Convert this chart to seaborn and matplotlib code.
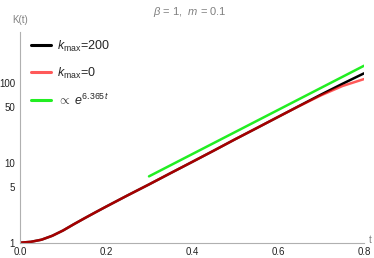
import numpy as np
import pandas as pd
import matplotlib
matplotlib.use("Agg")
import matplotlib.pyplot as plt
import matplotlib.ticker as mticker
import seaborn as sns

# ---- data ----
t_vals = [0.0, 0.025, 0.05, 0.075, 0.1, 0.125, 0.15, 0.175, 0.2, 0.25, 0.3, 0.35,
          0.4, 0.45, 0.5, 0.55, 0.6, 0.65, 0.7, 0.75, 0.8]
k_200 = [1.0, 1.025, 1.09, 1.22, 1.42, 1.70, 2.02, 2.39, 2.82, 3.90, 5.35, 7.4,
         10.2, 14.1, 19.6, 27.0, 37.3, 51.5, 71.0, 97.0, 131.0]
k_0 = [1.0, 1.025, 1.09, 1.22, 1.42, 1.70, 2.02, 2.39, 2.82, 3.90, 5.35, 7.4,
       10.2, 14.1, 19.6, 27.0, 37.3, 51.3, 69.5, 91.0, 111.0]
t_fit = [0.3, 0.8]
k_fit = [6.75, 163.0]

y_major = [1, 5, 10, 50, 100]
x_major = [0.0, 0.2, 0.4, 0.6, 0.8]

sns.set_theme(style="white")
plt.rcParams['font.family'] = ['Liberation Sans', 'DejaVu Sans']
plt.rcParams['mathtext.fontset'] = 'custom'
plt.rcParams['mathtext.rm'] = 'Liberation Sans'
plt.rcParams['mathtext.it'] = 'Liberation Sans:italic'

fig = plt.figure(figsize=(3.74, 2.58), dpi=100)
ax = fig.add_axes([20/374, 1 - 242.7/258, 344/374, (242.7 - 32)/258])

df_black = pd.DataFrame({"t": t_vals, "K": k_200})
df_red = pd.DataFrame({"t": t_vals, "K": k_0})
df_green = pd.DataFrame({"t": t_fit, "K": k_fit})

sns.lineplot(data=df_black, x="t", y="K", ax=ax, color="black", lw=1.8,
             label=r"$k_{\mathrm{max}}$=200")
sns.lineplot(data=df_red, x="t", y="K", ax=ax, color=(1, 0, 0), alpha=0.65, lw=1.8,
             label=r"$k_{\mathrm{max}}$=0")
sns.lineplot(data=df_green, x="t", y="K", ax=ax, color="#22ee22", lw=1.8,
             label=r"$\propto\ e^{6.365\,t}$")

ax.set_yscale("log")
ax.set_xlim(0, 0.8)
ax.set_ylim(1, 10 ** 2.634)
ax.set_xlabel("")
ax.set_ylabel("")

ax.yaxis.set_major_locator(mticker.FixedLocator(y_major))
ax.yaxis.set_major_formatter(mticker.FixedFormatter([str(v) for v in y_major]))
ax.yaxis.set_minor_locator(mticker.FixedLocator(
    [2, 3, 4, 6, 7, 8, 9, 20, 30, 40, 60, 70, 80, 90, 200, 300, 400]))
ax.yaxis.set_minor_formatter(mticker.NullFormatter())
ax.xaxis.set_major_locator(mticker.FixedLocator(x_major))
ax.xaxis.set_major_formatter(mticker.FixedFormatter([f"{v:.1f}" for v in x_major]))
ax.xaxis.set_minor_locator(mticker.MultipleLocator(0.05))

for s in ["top", "right"]:
    ax.spines[s].set_visible(False)
for s in ["left", "bottom"]:
    ax.spines[s].set_color("#b0b0b0")
    ax.spines[s].set_linewidth(0.8)

ax.tick_params(which="both", direction="in", colors="#b0b0b0", labelcolor="#222222",
               labelsize=7, width=0.6)
ax.tick_params(axis="x", pad=3.2)
ax.tick_params(axis="y", pad=3.5)
ax.tick_params(which="major", length=4)
ax.tick_params(which="minor", length=2)
ax.set_facecolor("white")

leg = ax.legend(loc="upper left", bbox_to_anchor=(0.01, 1.005), frameon=False,
                fontsize=9, handlelength=1.6, handletextpad=0.5,
                labelspacing=0.95, borderaxespad=0.2)
for line in leg.get_lines():
    line.set_linewidth(2.2)

fig.text(20/374, 1 - 20/258, "K(t)", color="#808080", fontsize=7, ha="center", va="center")
fig.text(370/374, 1 - 240/258, "t", color="#808080", fontsize=7, ha="center", va="center")
fig.text(190/374, 1 - 12/258, r"$\mathit{\beta}$ = 1,  $\mathit{m}$ = 0.1",
         color="#808080", fontsize=8, ha="center", va="center")

fig.savefig("out.png", dpi=100, facecolor="white")
